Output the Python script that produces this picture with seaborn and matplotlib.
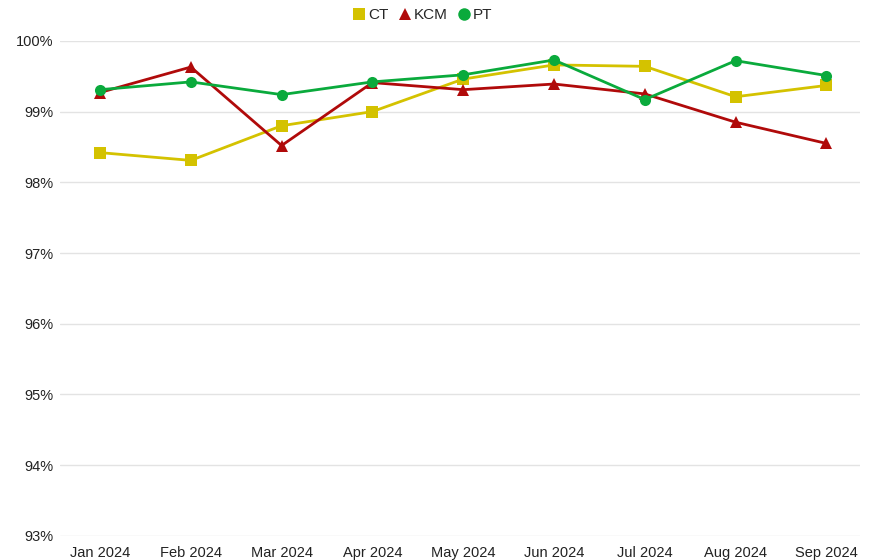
import numpy as np
import matplotlib
matplotlib.use('Agg')
import matplotlib.pyplot as plt
import matplotlib.ticker as mtick
import pandas as pd
import seaborn as sns

months = ['Jan 2024', 'Feb 2024', 'Mar 2024', 'Apr 2024', 'May 2024',
          'Jun 2024', 'Jul 2024', 'Aug 2024', 'Sep 2024']
ct = [98.42, 98.31, 98.80, 99.00, 99.46, 99.66, 99.64, 99.21, 99.37]
kcm = [99.27, 99.63, 98.52, 99.41, 99.31, 99.39, 99.25, 98.85, 98.55]
pt = [99.31, 99.42, 99.24, 99.42, 99.52, 99.73, 99.17, 99.72, 99.51]

series = ['CT', 'KCM', 'PT']
colors = {'CT': '#D4C200', 'KCM': '#B00A0A', 'PT': '#0AAA3C'}
markers = {'CT': 's', 'KCM': '^', 'PT': 'o'}

df = pd.DataFrame({'month': months * 3,
                   'x': list(range(len(months))) * 3,
                   'value': ct + kcm + pt,
                   'series': ['CT'] * 9 + ['KCM'] * 9 + ['PT'] * 9})

sns.set_style("white")
plt.rcParams['font.family'] = ['Liberation Sans', 'DejaVu Sans']

fig = plt.figure(figsize=(8.7, 5.6), dpi=100)
ax = fig.add_axes([0.069, 0.043, 0.9195, 0.884])

sns.lineplot(data=df, x='x', y='value', hue='series', style='series',
             palette=colors, markers=markers, dashes=False, linewidth=2,
             markersize=8, markeredgewidth=0, ax=ax, legend=False)

ax.set_ylim(93, 100)
ax.set_xlim(-0.44, 8.37)
ax.set_yticks(range(93, 101))
ax.yaxis.set_major_formatter(mtick.FuncFormatter(lambda v, p: f'{v:.0f}%'))
ax.set_xticks(range(len(months)))
ax.set_xticklabels(months)
ax.grid(axis='y', color='#e3e3e3', linewidth=1)
ax.set_axisbelow(True)
for s in ax.spines.values():
    s.set_visible(False)
ax.tick_params(axis='both', length=0, labelsize=10.5, colors='#222222')
ax.tick_params(axis='x', pad=7)
ax.tick_params(axis='y', pad=5)
ax.set_xlabel('')
ax.set_ylabel('')

handles = [plt.Line2D([], [], color=colors[s], marker=markers[s], linestyle='',
                      markersize=9, markeredgewidth=0) for s in series]
fig.legend(handles, series, loc='upper center', bbox_to_anchor=(0.485, 1.01),
           ncol=3, frameon=False, fontsize=11, handletextpad=0.05,
           columnspacing=0.6, handlelength=1.0)

fig.savefig('out.png', dpi=100)
